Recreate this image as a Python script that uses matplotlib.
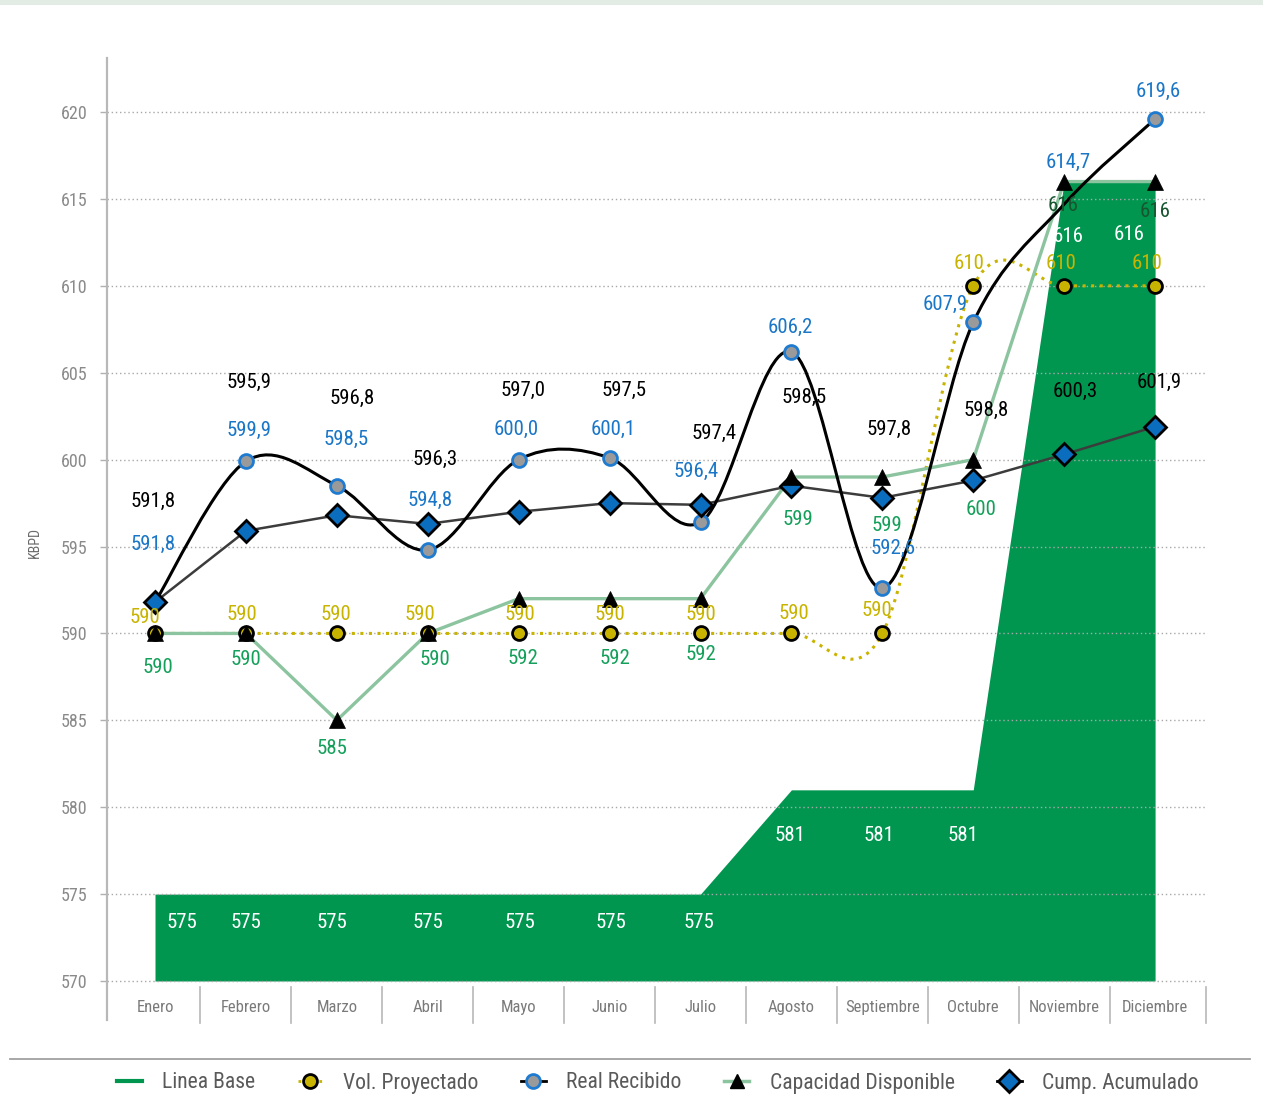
import matplotlib
matplotlib.use("Agg")
import matplotlib.pyplot as plt
from matplotlib.path import Path
from matplotlib.patches import PathPatch, Rectangle
from matplotlib.lines import Line2D
import matplotlib.transforms as mtransforms

plt.rcParams['font.family'] = ['Roboto Condensed', 'Archivo Narrow', 'Barlow Semi Condensed', 'DejaVu Sans']

# ---------------- data ----------------
months = ["Enero", "Febrero", "Marzo", "Abril", "Mayo", "Junio", "Julio",
          "Agosto", "Septiembre", "Octubre", "Noviembre", "Diciembre"]
linea_base = [575, 575, 575, 575, 575, 575, 575, 581, 581, 581, 616, 616]
vol_proyectado = [590, 590, 590, 590, 590, 590, 590, 590, 590, 610, 610, 610]
real_recibido = [591.8, 599.9, 598.5, 594.8, 600.0, 600.1, 596.4, 606.2, 592.6, 607.9, 614.7, 619.6]
capacidad = [590, 590, 585, 590, 592, 592, 592, 599, 599, 600, 616, 616]
cump_acumulado = [591.8, 595.9, 596.8, 596.3, 597.0, 597.5, 597.4, 598.5, 597.8, 598.8, 600.3, 601.9]
yticks = [570, 575, 580, 585, 590, 595, 600, 605, 610, 615, 620]
legend_labels = ["Linea Base", "Vol. Proyectado", "Real Recibido", "Capacidad Disponible", "Cump. Acumulado"]

# ---------------- label offsets (pixels: dx, dy with +dy downward) ----------------
off_cump = [(-2, -101), (3, -148), (15, -117), (7, -65), (4, -121), (14, -113), (14, -71),
            (13, -88), (7, -68), (13, -70), (11, -63), (4, -44)]
off_real = [(-2, -58), (3, -31), (9, -46), (2, -50), (-2, -30), (4, -29), (-4, -51),
            (-1, -24), (11, -40), (-28, -18), (4, -42), (3, -28)]
off_vol = [(-10, -16), (-4, -19), (-1, -19), (-8, -19), (1, -19), (0, -19), (0, -19),
           (2, -20), (-5, -23), (-4, -22), (-3, -22), (-8, -22)]
off_cap = [(3, 34), (0, 26), (-5, 28), (7, 26), (4, 60), (5, 60), (0, 56),
           (6, 42), (5, 48), (8, 50), (-1, 24), (0, 30)]
off_base = [(27, 28), (0, 28), (-5, 28), (0, 28), (1, 28), (1, 28), (-2, 28),
            (-1, 46), (-3, 46), (-10, 46), (4, 55), (-26, 53)]

# ---------------- colours ----------------
C_BASE = '#009650'
C_YEL = '#c8b400'
C_BLUE_TXT = '#1a76c6'
C_BLUE_EDGE = '#1f7bd0'
C_GRAYFACE = '#9a9a9a'
C_CAPLINE = '#8cc49f'
C_CAPTXT = '#14a05a'
C_CAPTXT_DARK = '#17552f'
C_DIAM = '#0b6dbd'
C_CUMLINE = '#3c3c3c'

W, H = 1263, 1098
fig = plt.figure(figsize=(W / 100, H / 100), dpi=100)
ax = fig.add_axes([107 / W, 78 / H, (1206 - 107) / W, (1020 - 58) / H])

x = list(range(len(months)))
ax.set_xlim(-0.528, 11.56)
ax.set_ylim(567.756, 623.11)


def smooth_path(xs, ys):
    verts = [(xs[0], ys[0])]
    codes = [Path.MOVETO]
    n = len(xs)
    for i in range(n - 1):
        p0 = i - 1 if i > 0 else i
        p3 = i + 2 if i + 2 < n else i + 1
        c1 = (xs[i] + (xs[i + 1] - xs[p0]) / 6.0, ys[i] + (ys[i + 1] - ys[p0]) / 6.0)
        c2 = (xs[i + 1] - (xs[p3] - xs[i]) / 6.0, ys[i + 1] - (ys[p3] - ys[i]) / 6.0)
        verts += [c1, c2, (xs[i + 1], ys[i + 1])]
        codes += [Path.CURVE4] * 3
    return Path(verts, codes)


# area
ax.fill_between(x, linea_base, 570, color=C_BASE, lw=0, zorder=0.3)

# grid
for t in yticks:
    ax.axhline(t, color='#a8a8a8', lw=1.0, ls=(0, (1, 2)), zorder=0.6)

# Vol proyectado smooth dotted
ax.add_patch(PathPatch(smooth_path(x, vol_proyectado), fill=False, edgecolor=C_YEL,
                       lw=2.2, ls=(0, (1, 1.8)), zorder=2))
# Capacidad line
ax.plot(x, capacidad, color=C_CAPLINE, lw=2.4, zorder=3)
# Cump line
ax.plot(x, cump_acumulado, color=C_CUMLINE, lw=1.8, zorder=4)
# Real line smooth
ax.add_patch(PathPatch(smooth_path(x, real_recibido), fill=False, edgecolor='black',
                       lw=2.2, zorder=5))

# markers
ax.plot(x, vol_proyectado, ls='none', marker='o', ms=10, mfc=C_YEL, mec='black', mew=2, zorder=6)
real_idx = [i for i in x if i != 10]
ax.plot([x[i] for i in real_idx], [real_recibido[i] for i in real_idx], ls='none', marker='o',
        ms=10, mfc=C_GRAYFACE, mec=C_BLUE_EDGE, mew=2, zorder=7)
ax.plot(x, cump_acumulado, ls='none', marker='D', ms=11, mfc=C_DIAM, mec='black', mew=2, zorder=8)
ax.plot(x, capacidad, ls='none', marker='^', ms=11, mfc='black', mec='black', mew=0.5, zorder=9)


def fmt(v, dec):
    if dec:
        return f"{v:.1f}".replace('.', ',')
    return f"{v:.0f}"


def put_labels(vals, offs, color, dec, colors=None):
    for i, (v, (dx, dy)) in enumerate(zip(vals, offs)):
        col = colors[i] if colors else color
        ax.annotate(fmt(v, dec), (x[i], v), xytext=(dx * 0.72, -dy * 0.72),
                    textcoords='offset points', ha='center', va='center',
                    fontsize=15, color=col, zorder=12, annotation_clip=False)


put_labels(cump_acumulado, off_cump, 'black', True)
put_labels(real_recibido, off_real, C_BLUE_TXT, True)
put_labels(vol_proyectado, off_vol, C_YEL, False)
cap_cols = [C_CAPTXT] * 10 + [C_CAPTXT_DARK] * 2
put_labels(capacidad, off_cap, C_CAPTXT, False, colors=cap_cols)
put_labels(linea_base, off_base, 'white', False)

# axes styling
for s in ['top', 'right', 'bottom']:
    ax.spines[s].set_visible(False)
ax.spines['left'].set_color('#b8b8b8')
ax.spines['left'].set_linewidth(1.6)
ax.set_yticks(yticks)
ax.set_yticklabels([str(t) for t in yticks])
ax.tick_params(axis='y', direction='out', length=5, width=1, color='#b0b0b0',
               labelsize=13, labelcolor='#8a8a8a', pad=9)
ax.set_xticks([])

# category labels and separators
trans = mtransforms.blended_transform_factory(ax.transData, ax.transAxes)
for i, m in enumerate(months):
    ax.text(x[i], 0.0135, m, transform=trans, ha='center', va='center',
            fontsize=12, color='#7a7a7a')
seps = [i + 0.5 for i in range(11)] + [11.56]
for s in seps:
    ax.plot([s, s], [-0.003, 0.034], transform=trans, color='#b8b8b8', lw=1.2,
            clip_on=False, zorder=1)

# KBPD label
fig.text(35 / W, 1 - 543 / H, 'KBPD', rotation=90, ha='center', va='center',
         fontsize=10, color='#6a6a6a')

# top stripe
fig.add_artist(Rectangle((0, 1 - 5 / H), 1, 5 / H, transform=fig.transFigure,
                         color='#e2ebe4', lw=0))
# bottom rule
fig.add_artist(Line2D([10 / W, 1250 / W], [1 - 1059 / H] * 2, transform=fig.transFigure,
                      color='#a0a0a0', lw=1.3))

# legend
handles = [
    Line2D([], [], color=C_BASE, lw=3),
    Line2D([], [], color=C_YEL, lw=2, ls=(0, (1, 1.5)), marker='o', ms=10, mfc=C_YEL, mec='black', mew=2),
    Line2D([], [], color='black', lw=2, marker='o', ms=10, mfc=C_GRAYFACE, mec=C_BLUE_EDGE, mew=2),
    Line2D([], [], color=C_CAPLINE, lw=2.5, marker='^', ms=10, mfc='black', mec='black'),
    Line2D([], [], color='black', lw=2, marker='D', ms=11, mfc=C_DIAM, mec='black', mew=2),
]
leg = fig.legend(handles, legend_labels, ncol=5, loc='center',
                 bbox_to_anchor=(658 / W, 1 - 1083 / H), frameon=False, fontsize=15.6,
                 handlelength=1.15, handletextpad=0.95, columnspacing=1.95,
                 borderpad=0, borderaxespad=0, labelcolor='#5a5a5a')

fig.savefig('out.png', dpi=100)
